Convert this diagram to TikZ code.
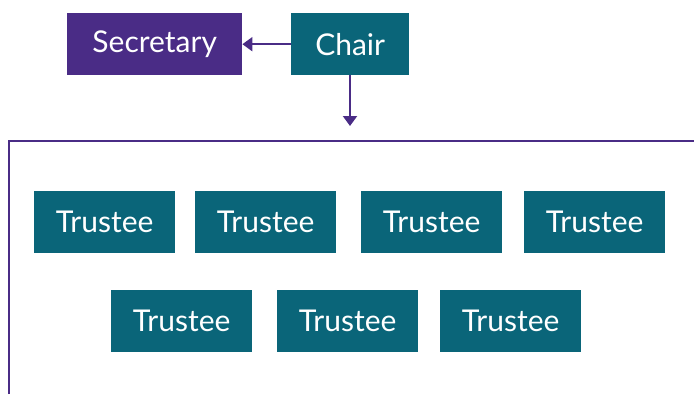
\documentclass[tikz,border=0pt]{standalone}
\usepackage{fontspec}
\setmainfont{Lato}
\usetikzlibrary{arrows.meta}
\definecolor{teal1}{HTML}{0A6579}
\definecolor{purp1}{HTML}{4A2C86}
\tikzset{
  box/.style={fill=teal1, text=white, minimum width=141pt, minimum height=62pt, inner sep=0pt, font=\fontsize{30}{33}\selectfont, anchor=north west},
  sbox/.style={box, fill=purp1, minimum width=175pt},
  cbox/.style={box, minimum width=118pt},
  link/.style={draw=purp1, line width=2pt, -{Triangle[length=10pt,width=14pt]}},
  frame/.style={draw=purp1, line width=1.3pt}
}
\begin{document}
\begin{tikzpicture}[x=1pt,y=-1pt]
\useasboundingbox (0,0) rectangle (694,394);
\node[sbox] (sec) at (67,13) {Secretary};
\node[cbox] (chair) at (291,13) {Chair};
\coordinate (down) at (350,126);
\draw[link] (chair.west) -- (sec.east);
\draw[link] (chair.south -| down) -- (down);
\coordinate (fl) at (9,394);
\coordinate (ftl) at (9,141);
\coordinate (fr) at (694,141);
\draw[frame] (fl) -- (ftl) -- (fr);
\node[box] (t1) at (34,191) {Trustee};
\node[box] (t2) at (195,191) {Trustee};
\node[box] (t3) at (361,191) {Trustee};
\node[box] (t4) at (524,191) {Trustee};
\node[box] (t5) at (111,290) {Trustee};
\node[box] (t6) at (277,290) {Trustee};
\node[box] (t7) at (440,290) {Trustee};
\end{tikzpicture}
\end{document}
